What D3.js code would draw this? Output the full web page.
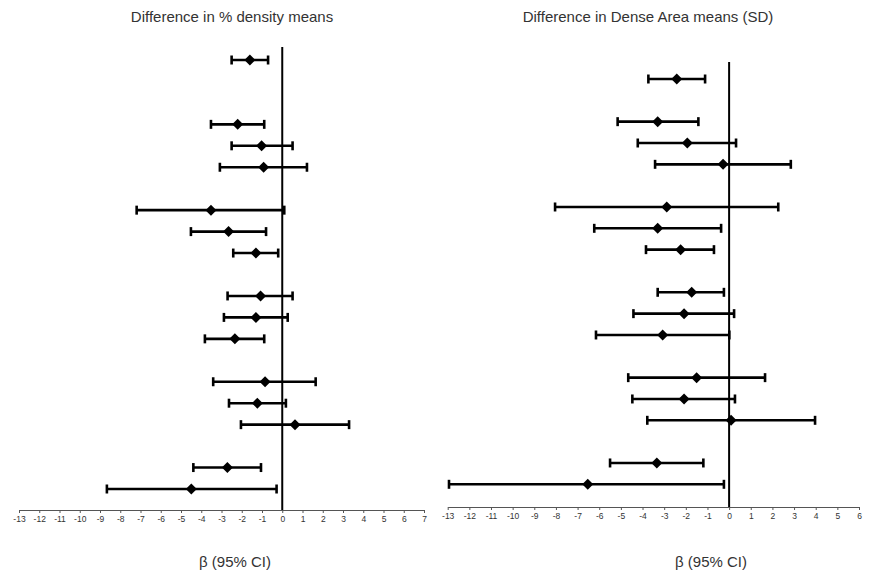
<!DOCTYPE html>
<html>
<head>
<meta charset="utf-8">
<script src="https://cdn.jsdelivr.net/npm/d3@7"></script>
<style>
  body { margin: 0; background: #fff; }
  svg { display: block; font-family: "Liberation Sans", Arial, sans-serif; }
  .tick text { fill: #333; }
</style>
</head>
<body>
<div id="chart"></div>
<script>
// rows of each panel, top to bottom; null = empty spacer row
var densityLow  = [-2.5, null, null, -3.52, -2.5, -3.08, null, -7.19, -4.51, -2.42, null, -2.7, -2.88, -3.82, null, -3.41, -2.63, -2.04, null, -4.39, -8.66];
var densityEst  = [-1.6, null, null, -2.2, -1.02, -0.92, null, -3.52, -2.65, -1.3, null, -1.07, -1.3, -2.34, null, -0.85, -1.23, 0.63, null, -2.71, -4.49];
var densityHigh = [-0.7, null, null, -0.89, 0.51, 1.22, null, 0.1, -0.8, -0.2, null, 0.51, 0.27, -0.89, null, 1.65, 0.18, 3.3, null, -1.05, -0.28];

var areaLow  = [-3.73, null, -5.15, -4.22, -3.42, null, -8.04, -6.23, -3.84, null, -3.3, -4.42, -6.15, null, -4.66, -4.47, -3.78, null, -5.5, -12.94];
var areaEst  = [-2.42, null, -3.3, -1.93, -0.28, null, -2.88, -3.3, -2.24, null, -1.73, -2.08, -3.07, null, -1.5, -2.08, 0.09, null, -3.34, -6.53];
var areaHigh = [-1.11, null, -1.42, 0.32, 2.85, null, 2.27, -0.37, -0.7, null, -0.24, 0.23, 0.01, null, 1.66, 0.27, 3.97, null, -1.19, -0.24];

var densityTicks = d3.range(-13, 8);
var areaTicks = d3.range(-13, 7);

var titles = ["Difference in % density means", "Difference in Dense Area means (SD)"];
var xLabel = "\u03b2 (95% CI)";

var svgWidth = 876, svgHeight = 573;

var svg = d3.select("#chart")
  .append("svg")
  .attr("width", svgWidth)
  .attr("height", svgHeight);

var panels = [
  { low: densityLow, est: densityEst, high: densityHigh, ticks: densityTicks,
    xRange: [19, 424], yRange: [60, 489], axisY: 510, lineTop: 47,
    titleX: 232, labelX: 235, title: titles[0] },
  { low: areaLow, est: areaEst, high: areaHigh, ticks: areaTicks,
    xRange: [447.7, 859], yRange: [79, 484.3], axisY: 507, lineTop: 62,
    titleX: 648, labelX: 711, title: titles[1] }
];

panels.forEach(function(p) {
  var n = p.est.length;
  var rows = d3.range(n).filter(function(i) { return p.est[i] !== null; });

  var x = d3.scaleLinear()
    .domain([p.ticks[0], p.ticks[p.ticks.length - 1]])
    .range(p.xRange);
  var y = d3.scaleLinear()
    .domain([0, n - 1])
    .range(p.yRange);

  var g = svg.append("g");

  // x axis (plain hyphen minus like the original)
  var axis = g.append("g")
    .attr("transform", `translate(0, ${p.axisY})`)
    .call(d3.axisBottom(x)
      .tickValues(p.ticks)
      .tickFormat(function(d) { return String(d); })
      .tickSize(3).tickPadding(3).tickSizeOuter(0));
  axis.select(".domain").attr("stroke", "#555");
  axis.selectAll(".tick line").attr("stroke", "#555");
  axis.selectAll(".tick text").attr("font-size", "8.5px");

  // zero line
  g.append("line")
    .attr("x1", x(0)).attr("x2", x(0))
    .attr("y1", p.lineTop).attr("y2", p.axisY)
    .attr("stroke", "#000")
    .attr("stroke-width", 2);

  // CI lines
  g.selectAll(".ci")
    .data(rows)
    .enter()
    .append("line")
    .attr("x1", function(i) { return x(p.low[i]); })
    .attr("x2", function(i) { return x(p.high[i]); })
    .attr("y1", function(i) { return y(i); })
    .attr("y2", function(i) { return y(i); })
    .attr("stroke", "#000")
    .attr("stroke-width", 2.6);

  // caps
  ["low", "high"].forEach(function(k) {
    g.selectAll(".cap-" + k)
      .data(rows)
      .enter()
      .append("line")
      .attr("x1", function(i) { return x(p[k][i]); })
      .attr("x2", function(i) { return x(p[k][i]); })
      .attr("y1", function(i) { return y(i) - 4.5; })
      .attr("y2", function(i) { return y(i) + 4.5; })
      .attr("stroke", "#000")
      .attr("stroke-width", 2.6);
  });

  // diamonds
  g.selectAll(".pt")
    .data(rows)
    .enter()
    .append("path")
    .attr("d", "M0,-5.5L5.5,0L0,5.5L-5.5,0Z")
    .attr("transform", function(i) { return `translate(${x(p.est[i])}, ${y(i)})`; })
    .attr("fill", "#000");

  // title
  g.append("text")
    .attr("x", p.titleX)
    .attr("y", 22)
    .attr("text-anchor", "middle")
    .attr("font-size", "15px")
    .attr("fill", "#333")
    .text(p.title);

  // x label
  g.append("text")
    .attr("x", p.labelX)
    .attr("y", 567)
    .attr("text-anchor", "middle")
    .attr("font-size", "15px")
    .attr("fill", "#333")
    .text(xLabel);
});
</script>
</body>
</html>
